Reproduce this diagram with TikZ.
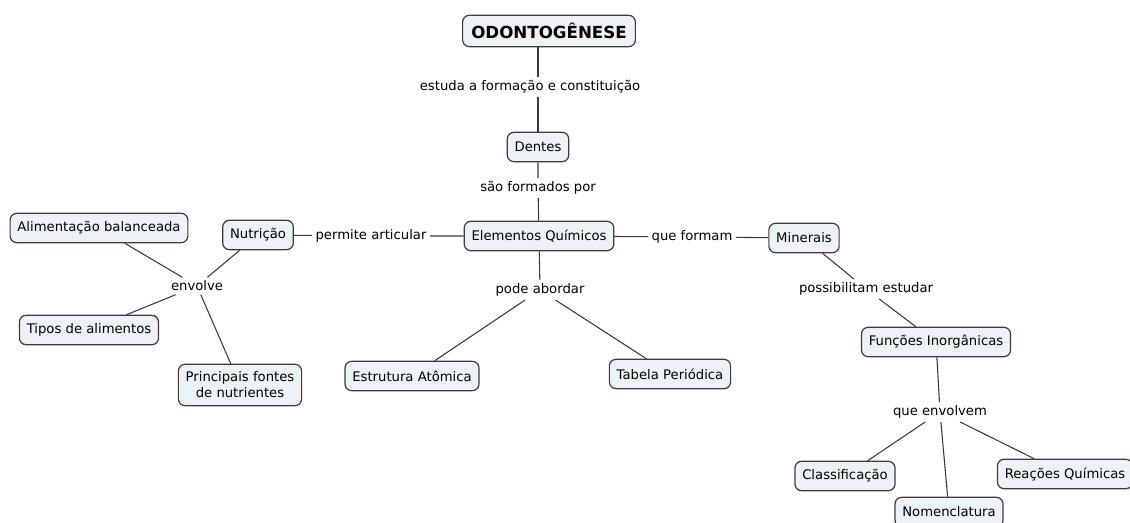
\documentclass[tikz,border=0pt]{standalone}
\usepackage{fontspec}
\setmainfont{DejaVu Sans}
\definecolor{boxfill}{HTML}{EDF2F5}
\definecolor{boxline}{HTML}{3C3C3C}
\definecolor{linkline}{HTML}{3A3A3A}
\tikzset{
  concept/.style={draw=boxline, fill=boxfill, line width=0.9pt, rounded corners=5pt,
    font=\fontsize{9.9}{12}\selectfont, inner xsep=5.5pt, minimum height=22pt, align=center},
  rootbox/.style={concept, font=\fontsize{12.5}{14}\selectfont\bfseries, minimum height=23.5pt, inner xsep=6.5pt},
  linklabel/.style={fill=white, font=\fontsize{9.9}{12}\selectfont, inner sep=2.5pt},
  link/.style={draw=linkline, line width=0.8pt}
}
\begin{document}
\begin{tikzpicture}[x=0.75pt,y=-0.75pt]
\useasboundingbox (0,0) rectangle (1130,523);
% concepts
\node[rootbox] (odo) at (549,31) {ODONTOGÊNESE};
\node[concept] (dentes) at (538,147) {Dentes};
\node[concept] (elem) at (539,236) {Elementos Químicos};
\node[concept] (nutri) at (258,235) {Nutrição};
\node[concept] (alim) at (99,228) {Alimentação balanceada};
\node[concept] (tipos) at (89,330) {Tipos de alimentos};
\node[concept, minimum height=31pt] (fontes) at (240,385) {Principais fontes\\de nutrientes};
\node[concept] (miner) at (804,238) {Minerais};
\node[concept] (func) at (936,342) {Funções Inorgânicas};
\node[concept] (estr) at (412,376) {Estrutura Atômica};
\node[concept] (tab) at (670,374) {Tabela Periódica};
\node[concept] (class) at (845,476) {Classificação};
\node[concept] (nomen) at (949,512) {Nomenclatura};
\node[concept] (reac) at (1065,474) {Reações Químicas};
% linking phrases
\node[linklabel] (l1) at (530,87) {estuda a formação e constituição};
\node[linklabel] (l2) at (538,188) {são formados por};
\node[linklabel] (l3) at (371,236) {permite articular};
\node[linklabel] (l4) at (197,286) {envolve};
\node[linklabel] (l5) at (692,237) {que formam};
\node[linklabel] (l6) at (866,289) {possibilitam estudar};
\node[linklabel] (l7) at (540,290) {pode abordar};
\node[linklabel] (l8) at (940,412) {que envolvem};
% connectors
\draw[link] (odo.south -| dentes.center) -- (l1.north -| dentes.center);
\draw[link] (l1.south -| dentes.center) -- (dentes);
\draw[link] (dentes) -- (l2) -- (elem);
\draw[link] (elem) -- (l3) -- (nutri);
\draw[link] (nutri) -- (l4);
\draw[link] (l4) -- (alim);
\draw[link] (l4) -- (tipos);
\draw[link] (l4) -- (fontes);
\draw[link] (elem) -- (l5) -- (miner);
\draw[link] (miner) -- (l6) -- (func);
\draw[link] (elem) -- (l7);
\draw[link] (l7) -- (estr);
\draw[link] (l7) -- (tab);
\draw[link] (func) -- (l8);
\draw[link] (l8) -- (class);
\draw[link] (l8) -- (nomen);
\draw[link] (l8) -- (reac);
\end{tikzpicture}
\end{document}
